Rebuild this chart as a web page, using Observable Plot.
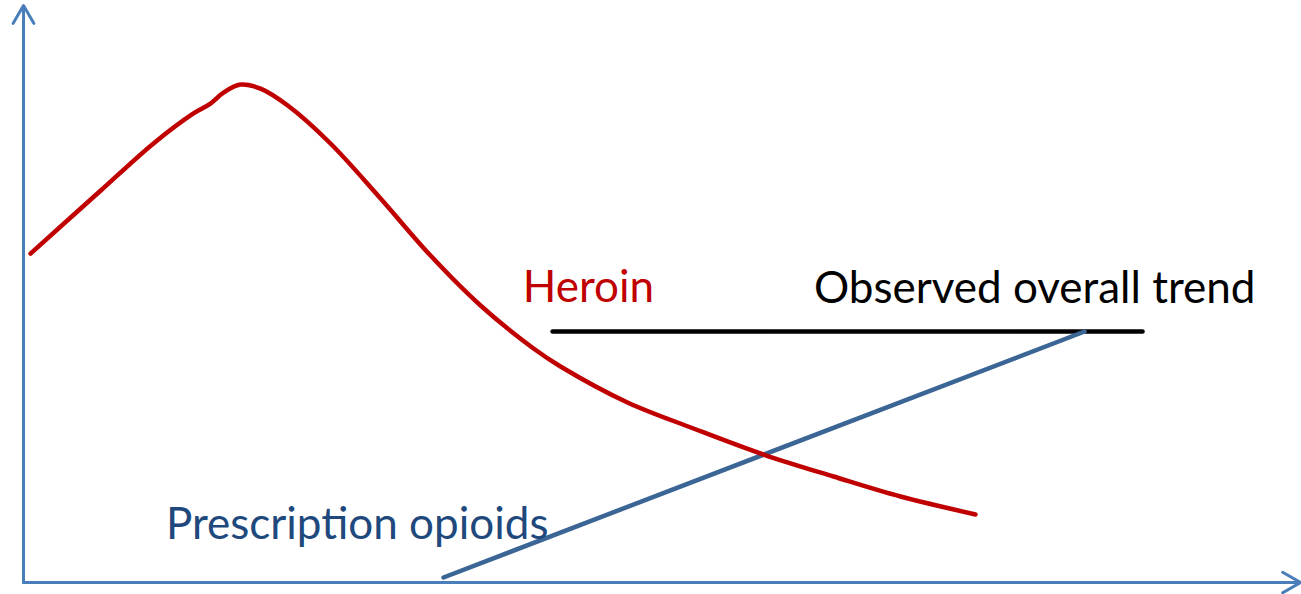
<!DOCTYPE html>
<html>
<head>
<meta charset="utf-8">
<script src="https://cdn.jsdelivr.net/npm/d3@7"></script>
<script src="https://cdn.jsdelivr.net/npm/@observablehq/plot@0.6"></script>
<style>
  html, body { margin: 0; padding: 0; background: #fff; }
  svg { display: block; }
</style>
</head>
<body>
<div id="chart"></div>
<script>
// Heroin curve (time, level) in abstract units 0-100
const heroinT = [0.55, 6.03, 10.18, 13.31, 14.64, 15.66, 16.99, 18.56, 20.67, 24.04, 27.96, 31.87, 35.79, 39.94, 42.05, 47.30, 52.47, 57.95, 63.43, 68.68, 74.55];
const heroinV = [57.0, 67.9, 76.1, 81.3, 83.0, 84.9, 86.3, 85.6, 82.7, 76.08, 66.55, 56.67, 48.01, 40.55, 37.44, 31.2, 26.69, 22.18, 18.37, 14.9, 11.79];
// Prescription opioids straight line
const rxT = [32.89, 83.09];
const rxV = [0.87, 43.5];
// Observed overall trend (flat)
const trendT = [41.43, 87.63];
const trendV = [43.5, 43.5];
// Labels
const labelText = ["Heroin", "Observed overall trend", "Prescription opioids"];
const labelT = [39.1, 61.9, 11.15];
const labelV = [48.7, 48.4, 7.6];
const labelColor = ["#C00000", "#000000", "#1F497D"];
// Axes (arrows)
const axisX1 = [0, 0], axisY1 = [0, 0], axisX2 = [100, 0], axisY2 = [0, 100];

const heroin = heroinT.map((t, i) => ({t, v: heroinV[i]}));
const rx = rxT.map((t, i) => ({t, v: rxV[i]}));
const trend = trendT.map((t, i) => ({t, v: trendV[i]}));
const labels = labelText.map((s, i) => ({s, t: labelT[i], v: labelV[i], c: labelColor[i]}));
const axes = axisX1.map((x, i) => ({x1: x, y1: axisY1[i], x2: axisX2[i], y2: axisY2[i]}));

const chart = Plot.plot({
  width: 1301,
  height: 594,
  marginLeft: 23,
  marginRight: 1,
  marginTop: 5,
  marginBottom: 12,
  x: {domain: [0, 100], axis: null},
  y: {domain: [0, 100], axis: null},
  style: {background: "#fff"},
  marks: [
    Plot.arrow(axes, {x1: "x1", y1: "y1", x2: "x2", y2: "y2", stroke: "#4A7EBB", strokeWidth: 3, headLength: 10.3, headAngle: 60, bend: 0}),
    Plot.line(trend, {x: "t", y: "v", stroke: "#000", strokeWidth: 4.5}),
    Plot.line(rx, {x: "t", y: "v", stroke: "#3A6595", strokeWidth: 4.5}),
    Plot.line(heroin, {x: "t", y: "v", stroke: "#C00000", strokeWidth: 4.5, curve: "catmull-rom"}),
    Plot.text(labels, {x: "t", y: "v", text: "s", fill: "c", textAnchor: "start", lineAnchor: "bottom", fontSize: 44, fontFamily: "Lato"})
  ]
});
document.getElementById("chart").appendChild(chart);
</script>
</body>
</html>
